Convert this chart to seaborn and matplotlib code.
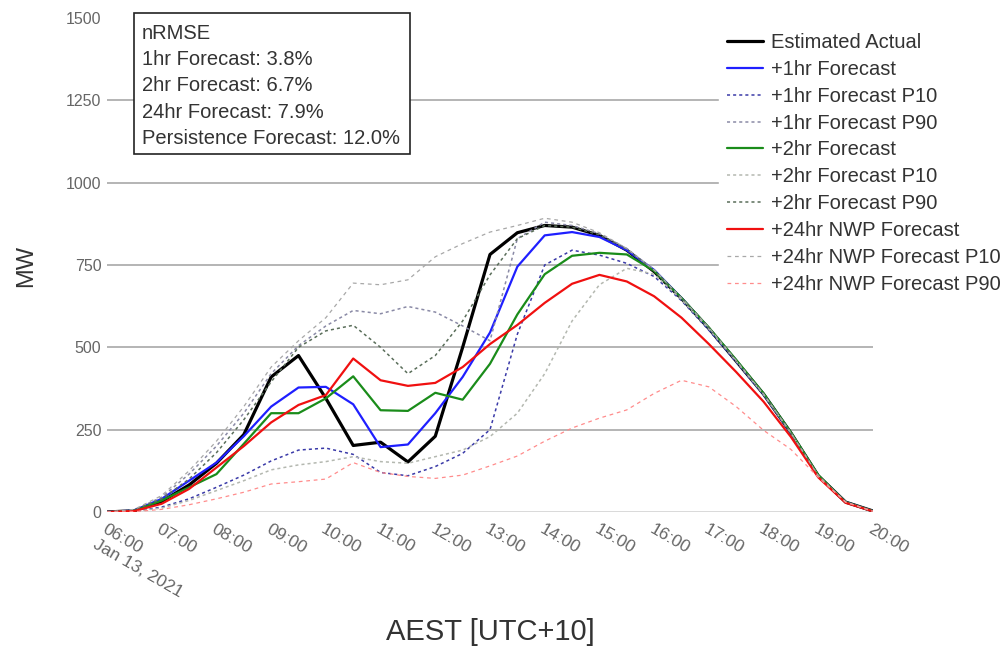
import matplotlib
matplotlib.use("Agg")
import matplotlib.pyplot as plt
import seaborn as sns
import pandas as pd
from matplotlib.patches import Rectangle

# ---------------- data ----------------
times = ["06:00", "06:30", "07:00", "07:30", "08:00", "08:30", "09:00", "09:30",
         "10:00", "10:30", "11:00", "11:30", "12:00", "12:30", "13:00", "13:30",
         "14:00", "14:30", "15:00", "15:30", "16:00", "16:30", "17:00", "17:30",
         "18:00", "18:30", "19:00", "19:30", "20:00"]

actual = [0, 4, 32, 82, 148, 235, 410, 475, 345, 202, 212, 152, 230, 500, 782, 848,
          870, 865, 840, 795, 730, 648, 557, 458, 358, 240, 110, 30, 3]
fc_1hr = [0, 5, 40, 95, 150, 230, 320, 378, 380, 327, 197, 205, 300, 410, 545, 745,
          840, 850, 835, 795, 735, 650, 558, 460, 358, 240, 110, 30, 3]
fc_1hr_p10 = [0, 2, 15, 40, 75, 112, 155, 188, 194, 175, 120, 110, 138, 178, 250, 540,
              750, 795, 780, 755, 715, 642, 552, 455, 355, 238, 108, 30, 2]
fc_1hr_p90 = [0, 7, 45, 115, 200, 300, 420, 505, 565, 612, 602, 624, 607, 565, 520, 830,
              880, 870, 845, 800, 735, 650, 560, 460, 358, 240, 110, 30, 2]
fc_2hr = [0, 4, 35, 75, 115, 207, 300, 300, 345, 412, 309, 307, 362, 341, 450, 600,
          722, 778, 787, 782, 732, 650, 560, 462, 360, 242, 112, 30, 3]
fc_2hr_p10 = [0, 2, 12, 35, 65, 95, 128, 143, 153, 168, 153, 148, 168, 188, 229, 300,
              420, 580, 690, 740, 722, 645, 556, 458, 357, 240, 110, 30, 2]
fc_2hr_p90 = [0, 6, 40, 100, 180, 280, 395, 500, 550, 567, 500, 420, 475, 580, 720, 830,
              870, 865, 842, 798, 734, 650, 560, 460, 358, 240, 110, 30, 2]
fc_24hr = [0, 3, 25, 70, 135, 200, 272, 325, 355, 466, 400, 383, 392, 440, 510, 568,
           635, 693, 720, 700, 655, 590, 510, 425, 335, 228, 105, 28, 2]
fc_24hr_p10 = [0, 8, 50, 125, 215, 320, 440, 520, 590, 695, 690, 705, 775, 815, 850, 870,
               892, 880, 848, 800, 735, 650, 560, 460, 358, 240, 110, 30, 2]
fc_24hr_p90 = [0, 1, 8, 22, 40, 60, 85, 92, 100, 150, 120, 108, 102, 112, 140, 170,
               215, 255, 285, 310, 360, 400, 380, 320, 248, 190, 105, 30, 2]

series_names = ["Estimated Actual", "+1hr Forecast", "+1hr Forecast P10", "+1hr Forecast P90",
                "+2hr Forecast", "+2hr Forecast P10", "+2hr Forecast P90",
                "+24hr NWP Forecast", "+24hr NWP Forecast P10", "+24hr NWP Forecast P90"]
series_values = [actual, fc_1hr, fc_1hr_p10, fc_1hr_p90, fc_2hr, fc_2hr_p10, fc_2hr_p90,
                 fc_24hr, fc_24hr_p10, fc_24hr_p90]

tick_times = ["06:00", "07:00", "08:00", "09:00", "10:00", "11:00", "12:00", "13:00",
              "14:00", "15:00", "16:00", "17:00", "18:00", "19:00", "20:00"]
tick_labels = ["06:00\nJan 13, 2021", "07:00", "08:00", "09:00", "10:00", "11:00", "12:00",
               "13:00", "14:00", "15:00", "16:00", "17:00", "18:00", "19:00", "20:00"]
y_ticks = [0, 250, 500, 750, 1000, 1250, 1500]

nrmse_lines = ["nRMSE", "1hr Forecast: 3.8%", "2hr Forecast: 6.7%", "24hr Forecast: 7.9%",
               "Persistence Forecast: 12.0%"]

# ---------------- styles ----------------
styles = [
    dict(color="#000000", lw=2.3, ls="-"),
    dict(color="#1f1fff", lw=1.6, ls="-"),
    dict(color="#3a3aa8", lw=1.1, ls=(0, (2, 2))),
    dict(color="#8a8aa6", lw=1.1, ls=(0, (2, 2))),
    dict(color="#1a8c1a", lw=1.6, ls="-"),
    dict(color="#b4b8b0", lw=1.1, ls=(0, (2, 2))),
    dict(color="#5a6e5a", lw=1.1, ls=(0, (2, 2))),
    dict(color="#f01010", lw=1.6, ls="-"),
    dict(color="#a8a8a8", lw=0.9, ls=(0, (3, 3))),
    dict(color="#ff8c8c", lw=0.9, ls=(0, (3, 3))),
]

def to_hours(t):
    h, m = t.split(":")
    return int(h) + int(m) / 60.0

x_hours = [to_hours(t) for t in times]

sns.set_style("white")
plt.rcParams["font.family"] = ["Liberation Sans", "DejaVu Sans"]

W, H = 1007, 647
fig = plt.figure(figsize=(W / 100, H / 100), dpi=100)
L, R, T, B = 107, 873, 18, 512
ax = fig.add_axes([L / W, 1 - B / H, (R - L) / W, (B - T) / H])

for name, vals, st in zip(series_names, series_values, styles):
    df = pd.DataFrame({"hour": x_hours, "MW": vals})
    sns.lineplot(data=df, x="hour", y="MW", ax=ax, color=st["color"], linewidth=st["lw"],
                 linestyle=st["ls"], label=name, errorbar=None)

ax.set_xlim(6, 20)
ax.set_ylim(0, 1500)
for s in ax.spines.values():
    s.set_visible(False)

ax.set_yticks(y_ticks)
ax.set_yticklabels([str(v) for v in y_ticks])
ax.yaxis.grid(True, color="#a0a0a0", linewidth=1.1)
ax.xaxis.grid(False)
ax.get_ygridlines()[-1].set_visible(False)
ax.get_ygridlines()[0].set_color("#d0d0d0")
ax.tick_params(axis="y", length=0, pad=4, labelsize=11.5, labelcolor="#666666")

ax.set_xticks([to_hours(t) for t in tick_times])
ax.set_xticklabels(tick_labels)
ax.tick_params(axis="x", direction="in", length=4, width=1, color="#555555",
               labelsize=12.5, labelcolor="#666666", pad=7)
for lbl in ax.get_xticklabels():
    lbl.set_rotation(-30)
    lbl.set_ha("left")
    lbl.set_va("top")
    lbl.set_rotation_mode("anchor")

ax.set_xlabel("")
ax.set_ylabel("")
fig.text(490 / W, 1 - 632 / H, "AEST [UTC+10]", ha="center", va="center",
         fontsize=21, color="#333333")
fig.text(26 / W, 1 - 266 / H, "MW", ha="center", va="center", rotation=90,
         fontsize=17, color="#333333")

leg = ax.legend(loc="upper left", bbox_to_anchor=(719 / W, 1 - 25 / H),
                bbox_transform=fig.transFigure, frameon=True, fancybox=False,
                facecolor="white", edgecolor="white", framealpha=1.0,
                fontsize=14.5, handlelength=1.8, handletextpad=0.4,
                labelspacing=0.39, borderpad=0.4, borderaxespad=0)
for t in leg.get_texts():
    t.set_color("#333333")

# nRMSE annotation box
box = Rectangle((134 / W, 1 - 154 / H), (410 - 134) / W, (154 - 13) / H,
                transform=fig.transFigure, facecolor="white", edgecolor="#222222",
                linewidth=1.2, zorder=5)
fig.add_artist(box)
for i, line in enumerate(nrmse_lines):
    fig.text(142 / W, 1 - (39 + i * 26.2) / H, line, ha="left", va="baseline",
             fontsize=14.5, color="#333333", zorder=6)

fig.savefig("out.png", dpi=100)
